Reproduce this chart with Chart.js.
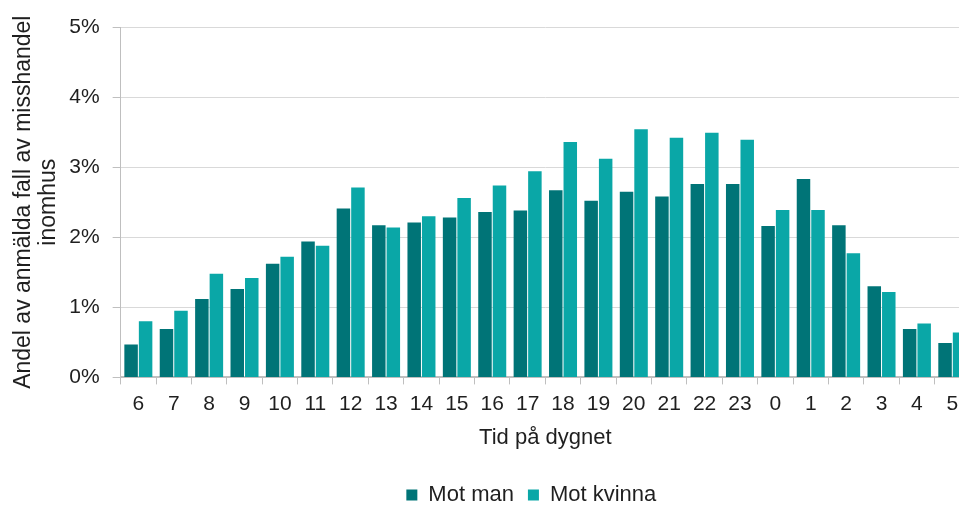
<!DOCTYPE html>
<html>
<head>
<meta charset="utf-8">
<script src="https://cdn.jsdelivr.net/npm/chart.js@4"></script>
<style>
  html, body { margin: 0; padding: 0; overflow: hidden; background: #fff; }
  #wrap { width: 975px; height: 516px; }
</style>
</head>
<body>
<div id="wrap"><canvas id="myChart" width="975" height="516"></canvas></div>
<script>
const hours = ["6", "7", "8", "9", "10", "11", "12", "13", "14", "15", "16", "17",
  "18", "19", "20", "21", "22", "23", "0", "1", "2", "3", "4", "5"];
const motMan = [0.47, 0.69, 1.12, 1.26, 1.62, 1.94, 2.41, 2.17, 2.21, 2.28, 2.36, 2.38,
  2.67, 2.52, 2.65, 2.58, 2.76, 2.76, 2.16, 2.83, 2.17, 1.30, 0.69, 0.49];
const motKvinna = [0.80, 0.95, 1.48, 1.42, 1.72, 1.88, 2.71, 2.14, 2.30, 2.56, 2.74, 2.94,
  3.36, 3.12, 3.54, 3.42, 3.49, 3.39, 2.39, 2.39, 1.77, 1.22, 0.77, 0.64];

const family = "'Liberation Sans', Arial, sans-serif";
const textColor = "#1f1f1f";

// nudge the legend a little to the left, like the original
const legendShift = {
  id: "legendShift",
  afterLayout(chart) {
    chart.legend.left -= 14;
    chart.legend.right -= 14;
  },
};

const data = {
  labels: hours,
  datasets: [
    {
      label: "Mot man",
      backgroundColor: "#007477",
      data: motMan,
      categoryPercentage: 0.82,
      barPercentage: 0.93,
    },
    {
      label: "Mot kvinna",
      backgroundColor: "#0aa7a7",
      data: motKvinna,
      categoryPercentage: 0.82,
      barPercentage: 0.93,
    },
  ],
};

const config = {
  type: "bar",
  data,
  plugins: [legendShift],
  options: {
    responsive: false,
    animation: false,
    layout: { padding: { top: 27, right: 5, left: 8, bottom: 0 } },
    plugins: {
      tooltip: { enabled: false },
      legend: {
        display: true,
        position: "bottom",
        fullSize: false,
        labels: {
          color: textColor,
          font: { family, size: 22 },
          boxWidth: 11,
          boxHeight: 11,
          padding: 14,
        },
      },
    },
    scales: {
      x: {
        grid: {
          drawOnChartArea: false,
          drawTicks: true,
          tickLength: 7,
          color: "#bfbfbf",
        },
        border: { color: "#bfbfbf", width: 2 },
        ticks: { color: textColor, font: { family, size: 21 }, padding: 7 },
        title: {
          display: true,
          text: "Tid på dygnet",
          color: textColor,
          font: { family, size: 22 },
          padding: { top: 1, bottom: 19 },
        },
      },
      y: {
        min: 0,
        max: 5,
        ticks: {
          stepSize: 1,
          color: textColor,
          font: { family, size: 21 },
          padding: 13,
          callback: (v) => v + "%",
        },
        grid: { color: "#d9d9d9", tickLength: 8, tickColor: "#bfbfbf" },
        border: { color: "#bfbfbf" },
        title: {
          display: true,
          text: ["Andel av anmälda fall av misshandel", "inomhus"],
          color: textColor,
          font: { family, size: 23, lineHeight: 1.05 },
          padding: { top: 4, bottom: -4 },
        },
      },
    },
  },
};

var myChart = new Chart(document.getElementById("myChart"), config);
</script>
</body>
</html>
